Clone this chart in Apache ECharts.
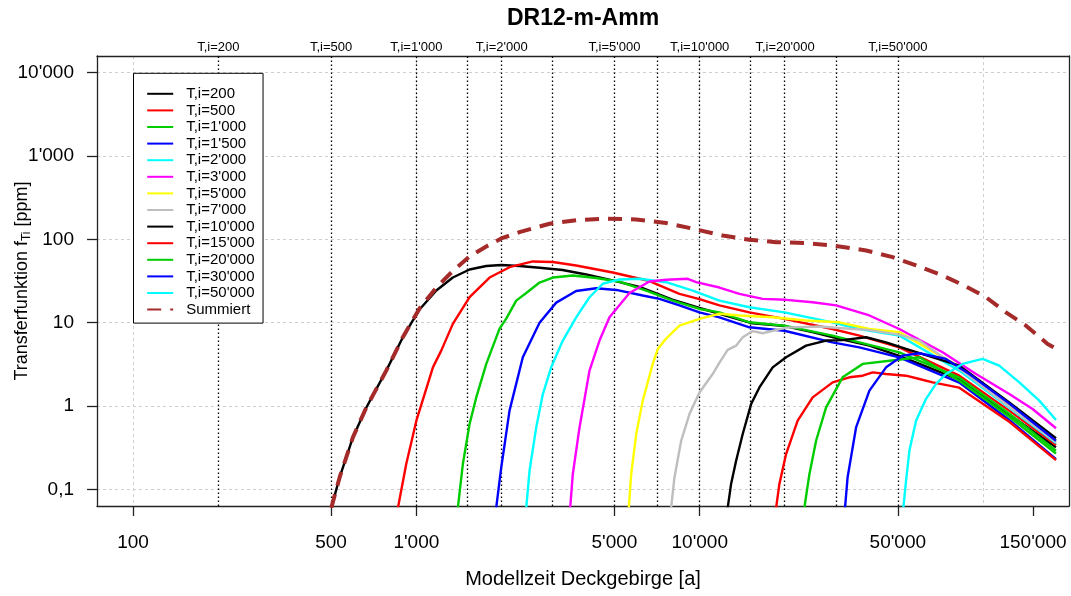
<!DOCTYPE html>
<html><head><meta charset="utf-8">
<script src="https://cdn.jsdelivr.net/npm/echarts@6/dist/echarts.min.js"></script>
<style>html,body{margin:0;padding:0;background:#fff}#c{width:1071px;height:596px}</style>
</head><body><div id="c"></div>
<script>
// ---- data (x: years, y: ppm) ----
const xTicks = [100, 500, 1000, 5000, 10000, 50000, 150000];
const xTickLabels = ["100", "500", "1'000", "5'000", "10'000", "50'000", "150'000"];
const yTicks = [0.1, 1, 10, 100, 1000, 10000];
const yTickLabels = ["0,1", "1", "10", "100", "1'000", "10'000"];
const xGridDecades = [100, 1000, 10000, 100000];
const tiLines = [200, 500, 1000, 1500, 2000, 3000, 5000, 7000, 10000, 15000, 20000, 30000, 50000];
const tiLabelled = [200, 500, 1000, 2000, 5000, 10000, 20000, 50000];
const tiLabels = ["T,i=200", "T,i=500", "T,i=1'000", "T,i=2'000", "T,i=5'000", "T,i=10'000", "T,i=20'000", "T,i=50'000"];
const xLimits = [100, 150000];
const yLimits = [0.1, 10000];

const seriesNames = ["T,i=200", "T,i=500", "T,i=1'000", "T,i=1'500", "T,i=2'000", "T,i=3'000", "T,i=5'000",
  "T,i=7'000", "T,i=10'000", "T,i=15'000", "T,i=20'000", "T,i=30'000", "T,i=50'000", "Summiert"];

const t200 = [[501,0.06],[536,0.139],[597,0.42],[666,0.96],[783,2.66],[896,6.7],[1026,14.4],[1176,24.3],[1345,34.8],[1541,43.5],[1765,47.9],[1993,49.2],[2312,47.9],[2721,45.6],[3280,42.9],[3975,37.9],[4920,32.1],[6126,26.8],[8010,18.9],[9977,15.0],[11740,12.8],[15340,9.8],[19580,9.2],[24980,7.7],[31100,6.4],[39700,5.3],[50600,4.0],[82400,2.07],[123700,0.79],[180800,0.32]];
const t500 = [[861,0.06],[921,0.201],[1000,0.666],[1144,2.91],[1224,4.62],[1345,9.67],[1541,20.2],[1813,34.8],[2132,46.3],[2576,54.3],[3031,53.5],[3664,48.6],[4933,40.0],[6645,31.6],[8480,22.2],[9977,19.2],[11740,16.1],[14970,13.3],[19900,11.1],[29380,8.4],[36590,7.0],[50600,5.06],[82400,2.31],[123700,0.88],[180800,0.34]];
const t1000 = [[1401,0.06],[1459,0.201],[1541,0.608],[1627,1.27],[1765,3.2],[1838,4.62],[1966,8.5],[2076,11.2],[2251,18.4],[2442,22.7],[2721,30.3],[3031,34.8],[3565,36.8],[4312,34.4],[5210,31.0],[6470,24.3],[8030,18.4],[9977,14.6],[11740,13.3],[14970,10.1],[19900,9.2],[29380,7.0],[36590,5.8],[50600,4.4],[82400,2.19],[123700,0.81],[180800,0.29]];
const t1500 = [[1913,0.06],[1993,0.183],[2132,0.88],[2375,3.84],[2721,10.0],[3116,17.4],[3664,24.0],[4312,25.9],[5072,24.7],[6294,21.2],[7206,19.3],[8480,16.1],[9977,13.3],[11740,11.6],[14970,8.8],[19900,8.0],[29380,5.8],[36590,5.06],[50600,3.84],[82400,1.91],[123700,0.68],[180800,0.23]];
const t2000 = [[2442,0.06],[2508,0.167],[2648,0.553],[2795,1.39],[2991,2.91],[3287,6.1],[3664,11.6],[4083,20.2],[4548,29.3],[5210,33.0],[6126,33.6],[7613,30.6],[9447,24.3],[11740,18.4],[14970,15.3],[19900,13.3],[29380,10.1],[36590,8.4],[50600,7.0],[82400,2.66],[123700,0.95],[180800,0.36]];
const t3000 = [[3490,0.06],[3565,0.152],[3765,0.553],[4083,2.66],[4429,6.1],[4803,11.6],[5651,22.7],[6645,31.2],[7613,32.7],[9073,33.6],[9712,30.6],[11740,26.4],[13800,22.2],[16680,19.3],[20170,18.8],[25040,17.6],[30280,16.1],[39700,12.2],[50600,8.4],[71960,4.41],[94400,2.42],[123700,1.39],[149500,0.92],[180800,0.54]];
const t5000 = [[5619,0.06],[5729,0.152],[5968,0.461],[6294,1.16],[6828,3.2],[7112,4.84],[7613,6.44],[8480,9.2],[9977,11.1],[11740,12.8],[13800,12.2],[18090,11.6],[23730,10.6],[31100,10.1],[39700,8.4],[50600,7.7],[82400,2.97],[123700,1.04],[180800,0.39]];
const t7000 = [[7925,0.06],[8142,0.139],[8600,0.383],[9199,0.80],[9977,1.45],[11110,2.42],[11740,3.31],[12550,4.71],[13440,5.3],[14180,6.68],[15380,7.93],[16680,7.46],[20170,8.73],[26440,8.98],[34650,8.4],[38640,8.26],[50600,7.19],[59560,6.1],[82400,2.81],[123700,0.98],[180800,0.37]];
const t10000 = [[12550,0.06],[12900,0.1155],[13440,0.22],[14180,0.461],[15190,1.06],[16240,1.67],[18090,2.91],[20170,3.84],[23730,5.3],[27920,6.1],[31930,6.18],[38640,6.68],[45450,5.81],[53460,4.84],[82400,3.05],[123700,1.10],[180800,0.41]];
const t15000 = [[18600,0.06],[19100,0.1155],[20170,0.265],[22160,0.666],[25040,1.27],[29450,1.92],[33730,2.21],[37580,2.31],[40770,2.53],[45450,2.42],[53460,2.31],[59560,2.11],[66370,1.92],[82400,1.66],[123700,0.648],[180800,0.224]];
const t20000 = [[23400,0.06],[24380,0.152],[25740,0.383],[27920,0.962],[31930,2.21],[37580,3.2],[49300,3.57],[59560,3.84],[82400,2.01],[123700,0.744],[180800,0.269]];
const t30000 = [[32560,0.06],[33250,0.139],[35620,0.553],[39700,1.53],[45450,2.91],[52000,4.02],[59560,4.29],[73970,3.67],[89400,2.42],[123700,1.07],[180800,0.383]];
const t50000 = [[52300,0.06],[53460,0.1265],[54930,0.29],[57990,0.666],[62900,1.22],[68220,1.84],[73970,2.42],[84650,3.2],[99600,3.67],[114000,3.05],[134200,1.92],[157900,1.16],[180800,0.679]];
const summiert = [[501,0.06],[536,0.139],[597,0.42],[666,0.96],[783,2.66],[896,6.7],[1026,14.8],[1176,26.4],[1345,41.7],[1541,62.3],[1765,82.2],[1993,102.5],[2312,122],[2950,154],[3664,169],[4677,177],[5968,173],[7613,157],[9712,131.5],[12050,111],[14970,98.9],[18600,92.5],[23730,90],[29450,84.5],[38640,73.5],[47950,61.1],[57990,48.6],[71960,36.8],[87050,27.2],[102400,20.2],[120400,13.3],[141700,9.2],[168900,5.56],[180800,4.88]];

const seriesData = [t200, t500, t1000, t1500, t2000, t3000, t5000, t7000, t10000, t15000, t20000, t30000, t50000, summiert];
const seriesColors = ["#000000", "#ff0000", "#00cd00", "#0000ff", "#00ffff", "#ff00ff", "#ffff00",
  "#bebebe", "#000000", "#ff0000", "#00cd00", "#0000ff", "#00ffff", "#a52a2a"];

// ---- chart ----
const FONT = "'Liberation Sans', Arial, Helvetica, sans-serif";
const L = Math.log10;
const xr = L(xLimits[1]) - L(xLimits[0]);
const yr = L(yLimits[1]) - L(yLimits[0]);
const xMin = L(xLimits[0]) - 0.04 * xr, xMax = L(xLimits[1]) + 0.04 * xr;
const yMin = L(yLimits[0]) - 0.04 * yr, yMax = L(yLimits[1]) + 0.04 * yr;

function lookup(vals, labels) {
  return function (v) {
    for (let i = 0; i < vals.length; i++) if (Math.abs(L(vals[i]) - v) < 1e-6) return labels[i];
    return '';
  };
}
const axisColor = '#222';
const gridLine = { show: true, lineStyle: { color: '#cfcfcf', type: [3, 3], width: 1 } };

const series = seriesData.map(function (d, i) {
  const isSum = i === seriesData.length - 1;
  const s = {
    name: seriesNames[i], type: 'line', symbol: 'none', clip: true, silent: true,
    xAxisIndex: 0, yAxisIndex: 0, z: isSum ? 5 : 3,
    lineStyle: isSum ? { color: seriesColors[i], width: 4, type: [14, 9], cap: 'butt' }
                     : { color: seriesColors[i], width: 2.4 },
    itemStyle: { color: seriesColors[i] },
    emphasis: { disabled: true },
    data: d.map(function (p) { return [L(p[0]), L(p[1])]; })
  };
  if (i === 0) {
    s.markLine = {
      silent: true, symbol: ['none', 'none'], animation: false, z: 2,
      label: { show: false }, emphasis: { disabled: true },
      lineStyle: { color: '#000', type: [1.5, 2.5], width: 1.3 },
      data: tiLines.map(function (v) { return { xAxis: L(v) }; })
    };
  }
  return s;
});

const option = {
  animation: false,
  backgroundColor: '#fff',
  title: {
    text: 'DR12-m-Amm', left: 502, top: 2,
    textStyle: { fontFamily: FONT, fontSize: 23, fontWeight: 'bold', color: '#000' }
  },
  grid: { left: 97, top: 56, width: 972, height: 450, containLabel: false, outerBoundsMode: 'none' },
  legend: {
    data: seriesNames, orient: 'vertical', left: 133.5, top: 73.3, z: 20,
    padding: [13, 8.5, 6, 12.7], itemGap: 1.6, itemWidth: 26, itemHeight: 14,
    borderColor: '#000', borderWidth: 1, backgroundColor: '#fff', selectedMode: false,
    itemStyle: { opacity: 0, borderWidth: 0 },
    textStyle: { fontFamily: FONT, fontSize: 15, color: '#000', lineHeight: 14, padding: [0, 0, 0, 8] }
  },
  xAxis: [
    {
      type: 'value', position: 'bottom', min: xMin, max: xMax,
      axisLine: { show: true, onZero: false, lineStyle: { color: axisColor, width: 1.3 } },
      axisTick: { show: true, customValues: xTicks.map(L), length: 10, lineStyle: { color: axisColor, width: 1.3 } },
      axisLabel: { customValues: xTicks.map(L), formatter: lookup(xTicks, xTickLabels), fontFamily: FONT, fontSize: 19, color: '#000', margin: 27 },
      splitLine: { show: false },
      name: 'Modellzeit Deckgebirge [a]', nameLocation: 'middle', nameGap: 63, nameMoveOverlap: false,
      nameTextStyle: { fontFamily: FONT, fontSize: 20, color: '#000' }
    },
    {
      type: 'value', position: 'top', min: xMin, max: xMax,
      axisLine: { show: true, onZero: false, lineStyle: { color: axisColor, width: 1.3 } },
      axisTick: { show: false, customValues: xGridDecades.map(L) },
      axisLabel: { customValues: tiLabelled.map(L), formatter: lookup(tiLabelled, tiLabels), fontFamily: FONT, fontSize: 13, color: '#000', margin: 2 },
      splitLine: gridLine
    }
  ],
  yAxis: [
    {
      type: 'value', position: 'left', min: yMin, max: yMax,
      axisLine: { show: true, onZero: false, lineStyle: { color: axisColor, width: 1.3 } },
      axisTick: { show: true, customValues: yTicks.map(L), length: 10, lineStyle: { color: axisColor, width: 1.3 } },
      axisLabel: { customValues: yTicks.map(L), formatter: lookup(yTicks, yTickLabels), fontFamily: FONT, fontSize: 19, color: '#000', margin: 23 },
      splitLine: gridLine,
      name: '{a|Transferfunktion f}{s|Ti}{a| [ppm]}', nameLocation: 'middle', nameGap: 64, nameRotate: 90, nameMoveOverlap: false,
      nameTextStyle: {
        rich: {
          a: { fontFamily: FONT, fontSize: 18, color: '#000', lineHeight: 22 },
          s: { fontFamily: FONT, fontSize: 12, color: '#000', lineHeight: 10, verticalAlign: 'bottom' }
        }
      }
    },
    {
      type: 'value', position: 'right', min: yMin, max: yMax,
      axisLine: { show: true, onZero: false, lineStyle: { color: axisColor, width: 1.3 } },
      axisTick: { show: false }, axisLabel: { show: false }, splitLine: { show: false }
    }
  ],
  series: series
};
const chart = echarts.init(document.getElementById('c'), null, { renderer: 'canvas' });
chart.setOption(option);
</script></body></html>
